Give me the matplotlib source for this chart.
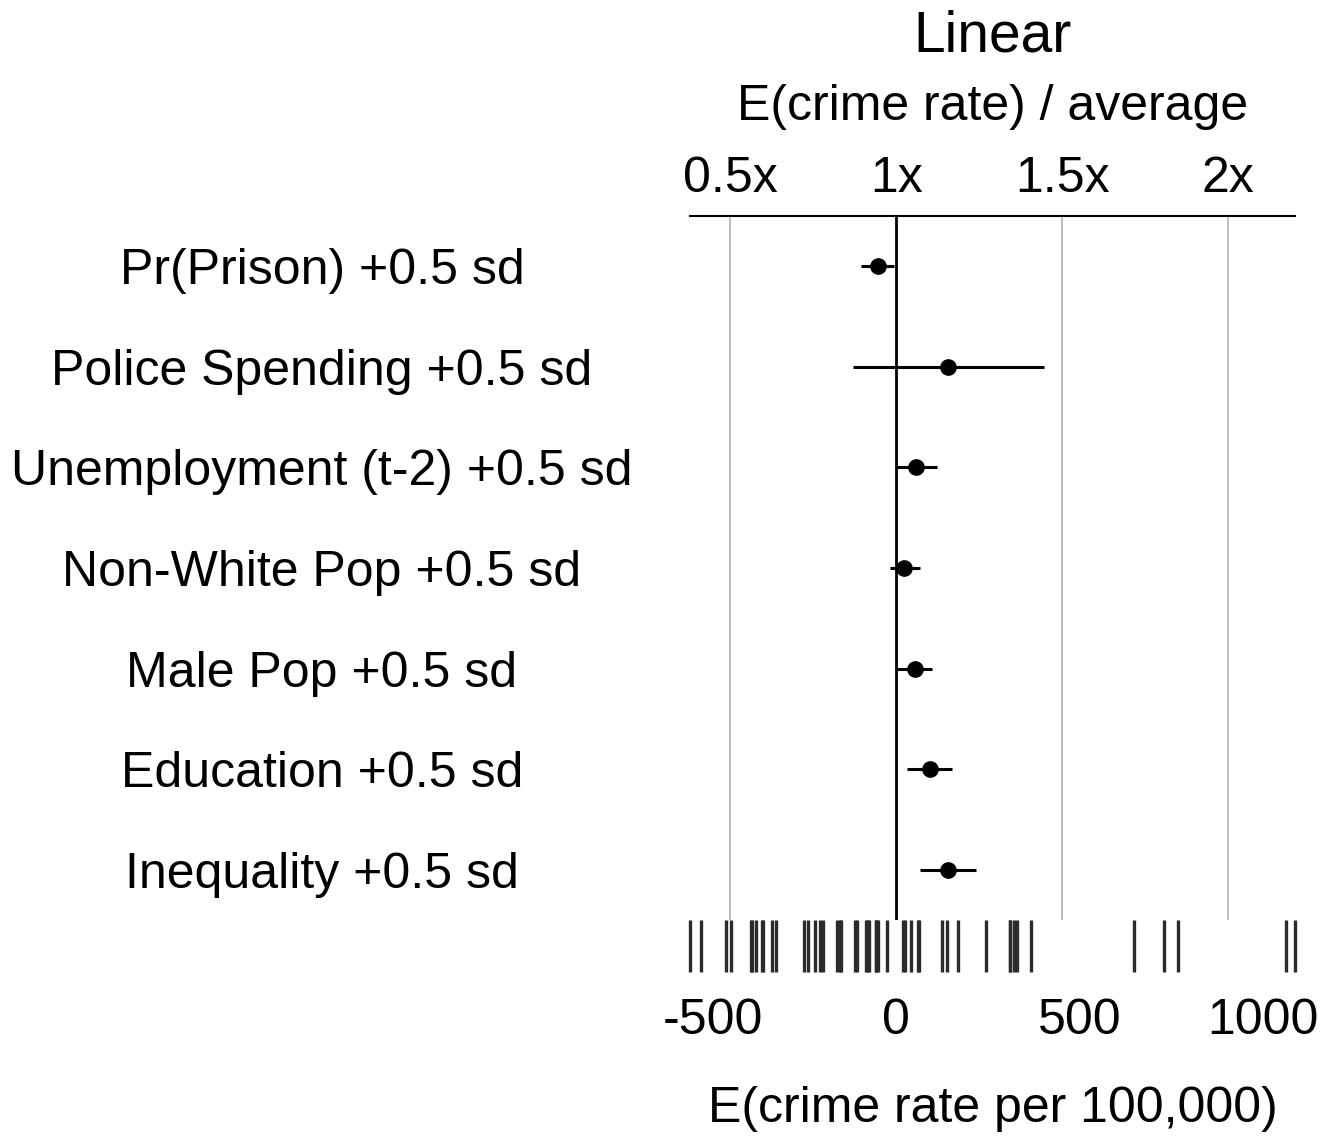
import matplotlib
matplotlib.use("Agg")
import matplotlib.pyplot as plt
import numpy as np

plt.rcParams['font.family'] = ['Liberation Sans', 'DejaVu Sans']

# ---- data ----
labels = ["Pr(Prison) +0.5 sd", "Police Spending +0.5 sd", "Unemployment (t-2) +0.5 sd",
          "Non-White Pop +0.5 sd", "Male Pop +0.5 sd", "Education +0.5 sd",
          "Inequality +0.5 sd"]
est = [-50, 142, 54, 22, 50, 91, 140]
lo = [-96, -119, -2, -17, 0, 30, 64]
hi = [-5, 404, 111, 65, 97, 151, 217]

average = 905
rug = [-563, -532, -466, -450, -397, -394, -382, -366, -363, -339, -327, -252,
       -241, -223, -209, -200, -163, -155, -151, -114, -107, -82, -79, -74, -56,
       -56, -49, -25, 18, 24, 41, 58, 63, 125, 138, 167, 246, 311, 311, 320, 329,
       367, 650, 730, 769, 1064, 1088]

ratio_ticks = [0.5, 1, 1.5, 2]
ratio_labels = ["0.5x", "1x", "1.5x", "2x"]
bottom_ticks = [-500, 0, 500, 1000]

W, H = 1323, 1136
fig = plt.figure(figsize=(W / 100, H / 100), dpi=100)

left_px, right_px = 690, 1295
top_px, main_bot_px, rug_bot_px = 216, 920, 972

ax = fig.add_axes([left_px / W, 1 - main_bot_px / H, (right_px - left_px) / W,
                   (main_bot_px - top_px) / H])
rax = fig.add_axes([left_px / W, 1 - rug_bot_px / H, (right_px - left_px) / W,
                    (rug_bot_px - main_bot_px) / H])

xlim = (min(rug), max(rug))
for a in (ax, rax):
    a.set_xlim(*xlim)
    for s in a.spines.values():
        s.set_visible(False)

# main panel
n = len(labels)
ypos = np.arange(1, n + 1)
ax.set_ylim(n + 0.5, 0.5)
ax.spines['top'].set_visible(True)
ax.spines['top'].set_linewidth(1.5)

for r in ratio_ticks:
    xv = (r - 1) * average
    if r == 1:
        ax.axvline(xv, color='black', lw=2.0, zorder=1)
    else:
        ax.axvline(xv, color='#b3b3b3', lw=1.2, zorder=1)

ax.hlines(ypos, lo, hi, color='black', lw=2.2, zorder=3)
ax.plot(est, ypos, 'o', color='black', markersize=11, zorder=4)

ax.set_yticks(ypos)
ax.set_yticklabels(labels, fontsize=36)
ax.tick_params(axis='y', length=0, pad=265)
for t in ax.get_yticklabels():
    t.set_horizontalalignment('center')
    t.set_verticalalignment('center_baseline')
ax.set_xticks([])

secax = ax.secondary_xaxis('top', functions=(lambda x: 1 + x / average,
                                             lambda r: (r - 1) * average))
secax.set_xticks(ratio_ticks)
secax.set_xticklabels(ratio_labels, fontsize=36)
secax.tick_params(length=0, pad=10)
secax.spines['top'].set_visible(False)
secax.set_xlabel("E(crime rate) / average", fontsize=36, labelpad=26)

fig.text((left_px + right_px) / 2 / W, 1 - 37 / H, "Linear", fontsize=41,
         ha='center', va='center')

# rug panel
rax.vlines(rug, 0, 1, color='#2b2b2b', lw=2.4, clip_on=False)
rax.set_ylim(0, 1)
rax.set_yticks([])
rax.set_xticks(bottom_ticks)
rax.set_xticklabels([str(v) for v in bottom_ticks], fontsize=36)
rax.tick_params(axis='x', length=0, pad=19)
rax.set_xlabel("E(crime rate per 100,000)", fontsize=36, labelpad=30)

fig.savefig("out.png", dpi=100)
